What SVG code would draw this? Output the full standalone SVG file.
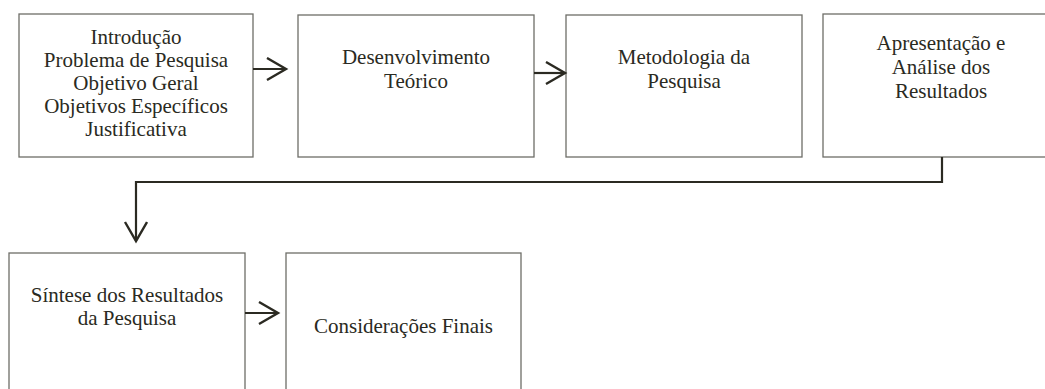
<svg xmlns="http://www.w3.org/2000/svg" width="1045" height="389" viewBox="0 0 1045 389">
  <style>
    .box { fill: #ffffff; stroke: #6e6e68; stroke-width: 1.3; }
    .lbl { font-family: "Liberation Serif", "Times New Roman", serif; font-size: 21px; fill: #2a2a22; text-anchor: middle; }
    .conn { fill: none; stroke: #2b2a22; stroke-width: 2.2; }
  </style>
  <defs>
    <marker id="chev" markerUnits="userSpaceOnUse" markerWidth="24" markerHeight="26" refX="20" refY="12" orient="auto">
      <path d="M1,1 L20,12 L1,23" fill="none" stroke="#2b2a22" stroke-width="2.4"/>
    </marker>
  </defs>
  <rect width="1045" height="389" fill="#ffffff"/>

  <g id="n1">
    <rect class="box" x="19" y="14" width="234" height="143"/>
    <text class="lbl" x="136" y="43.5">Introdução</text>
    <text class="lbl" x="136" y="66.5">Problema de Pesquisa</text>
    <text class="lbl" x="136" y="89.5">Objetivo Geral</text>
    <text class="lbl" x="136" y="112.5">Objetivos Específicos</text>
    <text class="lbl" x="136" y="136">Justificativa</text>
  </g>

  <g id="n2">
    <rect class="box" x="298" y="15" width="236" height="142"/>
    <text class="lbl" x="416" y="63.5">Desenvolvimento</text>
    <text class="lbl" x="416" y="88">Teórico</text>
  </g>

  <g id="n3">
    <rect class="box" x="566" y="15" width="236" height="142"/>
    <text class="lbl" x="684" y="63.5">Metodologia da</text>
    <text class="lbl" x="684" y="88">Pesquisa</text>
  </g>

  <g id="n4">
    <rect class="box" x="823" y="14" width="240" height="143"/>
    <text class="lbl" x="941" y="50">Apresentação e</text>
    <text class="lbl" x="941" y="73.5">Análise dos</text>
    <text class="lbl" x="941" y="97.5">Resultados</text>
  </g>

  <g id="n5">
    <rect class="box" x="9" y="253" width="236" height="150"/>
    <text class="lbl" x="127" y="302">Síntese dos Resultados</text>
    <text class="lbl" x="127" y="325">da Pesquisa</text>
  </g>

  <g id="n6">
    <rect class="box" x="286" y="253" width="235" height="150"/>
    <text class="lbl" x="403.5" y="333">Considerações Finais</text>
  </g>

  <g id="connectors">
    <path class="conn" d="M253,69 L286,69" marker-end="url(#chev)"/>
    <path class="conn" d="M534,73 L565,73" marker-end="url(#chev)"/>
    <path class="conn" d="M942,157 L942,182 L136,182 L136,241" marker-end="url(#chev)"/>
    <path class="conn" d="M245,313 L278,313" marker-end="url(#chev)"/>
  </g>
</svg>
